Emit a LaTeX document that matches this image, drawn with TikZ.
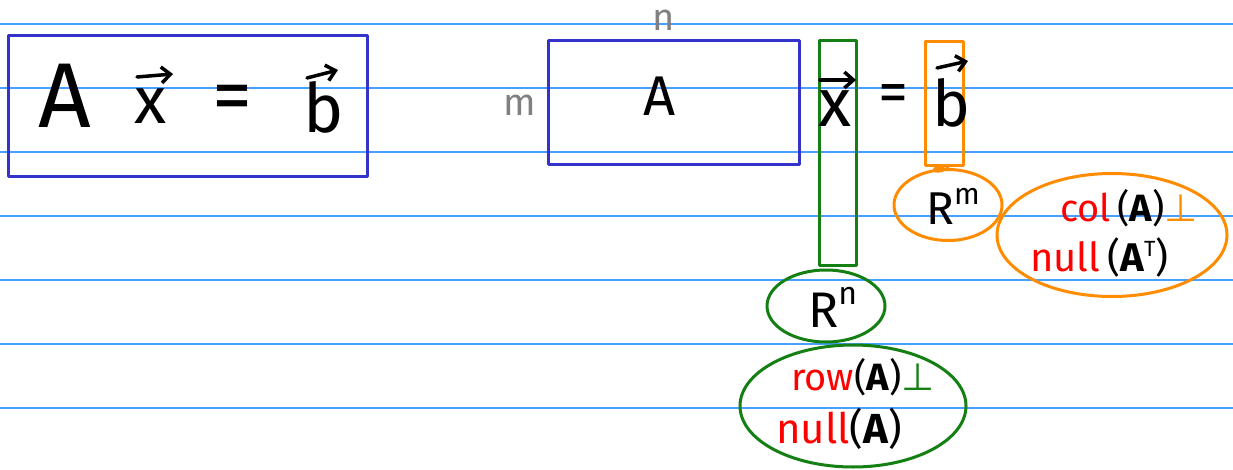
\documentclass[tikz,border=0pt]{standalone}
\usepackage{fontspec}
\setmainfont{Fira Sans}
\newfontfamily\symf{DejaVu Sans}
\usetikzlibrary{shapes.geometric,arrows.meta}
\definecolor{penblue}{RGB}{51,51,204}
\definecolor{pengreen}{RGB}{20,128,20}
\definecolor{penorange}{RGB}{255,140,0}
\definecolor{penred}{RGB}{255,0,0}
\definecolor{pengray}{RGB}{128,128,128}
\definecolor{ruleblue}{RGB}{70,160,255}
\newcommand\fs[1]{\fontsize{#1}{#1}\selectfont}
\newcommand\perpsym{{\symf ⊥}}
\newcommand\supr[3]{\raisebox{#1}{\fs{#2}#3}}
\tikzset{
  rule/.style={draw=ruleblue, line width=1.3pt},
  pen/.style={line width=3pt, line join=round, line cap=round},
  box/.style={draw, pen, rectangle, inner sep=0pt},
  blob/.style={draw, pen, ellipse, inner sep=0pt},
  txt/.style={inner sep=0pt, anchor=base west},
  vecarrow/.style={line width=3.5pt, line cap=round, -{Straight Barb[length=9pt, width=16pt, line width=3.5pt]}},
}
\begin{document}
\begin{tikzpicture}[x=1pt,y=-1pt]
\useasboundingbox (0,0) rectangle (1233,470);
\fill[white] (0,0) rectangle (1233,470);
\foreach \y in {24,88,152,216,280,344,408} \draw[rule] (0,\y) -- (1233,\y);

% left framed equation
\node[box, draw=penblue, minimum width=359pt, minimum height=141pt] (eqbox) at (187.5,106.5) {};
\node[txt, font=\fs{92}] (lA) at (38,128) {A};
\node[txt, font=\fs{66}] (lx) at (134,124) {x};
\node[font=\fs{80}, inner sep=0pt] (leq) at (232,104) {=};
\node[txt, font=\fs{68}] (lb) at (303,133) {b};
\draw[vecarrow] (137,77) -- (173,74);
\draw[vecarrow] (307,78) -- (338,70);

% right: matrix form
\node[txt, font=\fs{38}, text=pengray] (nlab) at (652,31) {n};
\node[txt, font=\fs{38}, text=pengray] (mlab) at (503,116) {m};
\node[box, draw=penblue, minimum width=251pt, minimum height=124pt] (Abox) at (673.5,103) {};
\node[txt, font=\fs{56}] (rA) at (643,116) {A};
\node[box, draw=pengreen, minimum width=37pt, minimum height=224pt] (xbox) at (837.5,153) {};
\node[txt, font=\fs{68}] (rx) at (818,127) {x};
\node[font=\fs{60}, inner sep=0pt] (req) at (893,99) {=};
\node[box, draw=penorange, minimum width=38pt, minimum height=124pt] (bbox) at (944,104) {};
\node[txt, font=\fs{64}] (rb) at (932,127) {b};
\draw[vecarrow] (820,80) -- (856,80);
\draw[vecarrow] (937,68) -- (968,61);

% orange blobs
\node[blob, draw=penorange, minimum width=108pt, minimum height=71pt] (Rmblob) at (948,205) {};
\node[txt, font=\fs{46}] (Rm) at (926,225) {R\supr{0.45em}{30}{m}};
\draw[pen, penorange] ([xshift=-1pt]bbox.south) .. controls (930,166) and (932,176) .. (Rmblob.north);
\node[blob, draw=penorange, minimum width=230pt, minimum height=123pt] (colblob) at (1112,235) {};
\node[txt, font=\fs{38}] (col) at (1060,222) {\textcolor{penred}{col}\,(\textbf{A})\textcolor{penorange}{\perpsym}};
\node[txt, font=\fs{40}] (nullT) at (1030,272) {\textcolor{penred}{null}\,(\textbf{A}\supr{0.4em}{22}{T})};

% green blobs
\node[blob, draw=pengreen, minimum width=118pt, minimum height=72pt] (Rnblob) at (826,306) {};
\node[txt, font=\fs{50}] (Rn) at (808,327) {R\supr{0.45em}{32}{n}};
\node[blob, draw=pengreen, minimum width=226pt, minimum height=122pt] (rowblob) at (853,406) {};
\node[txt, font=\fs{38}] (row) at (791,390) {\textcolor{penred}{row}(\textbf{A})\textcolor{pengreen}{\perpsym}};
\node[txt, font=\fs{42}] (nullA) at (776,443) {\textcolor{penred}{null}(\textbf{A})};
\end{tikzpicture}
\end{document}
